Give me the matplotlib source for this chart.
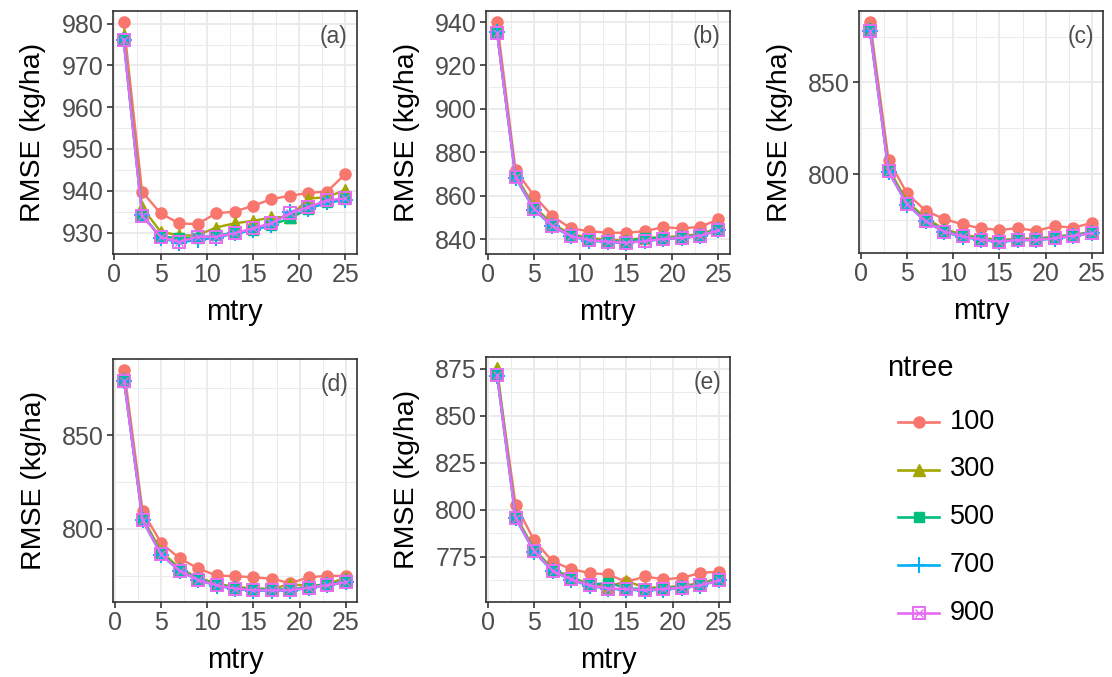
import matplotlib
matplotlib.use("Agg")
import matplotlib.pyplot as plt
from matplotlib.ticker import MultipleLocator
from matplotlib.lines import Line2D
import numpy as np

plt.rcParams['font.family'] = ['Liberation Sans', 'DejaVu Sans']

mtry = [1, 3, 5, 7, 9, 11, 13, 15, 17, 19, 21, 23, 25]
ntree_labels = ["100", "300", "500", "700", "900"]
colors = ["#F8766D", "#A3A500", "#00BF7D", "#00B0F6", "#E76BF3"]
panel_labels = ["(a)", "(b)", "(c)", "(d)", "(e)"]

# RMSE (kg/ha) per panel, per ntree
a_100 = [980.4, 939.8, 934.6, 932.2, 932.0, 934.6, 935.0, 936.4, 938.0, 938.8, 939.5, 939.8, 944.0]
a_300 = [977.4, 936.0, 930.2, 929.3, 929.3, 931.2, 932.2, 932.8, 933.6, 933.8, 938.1, 938.5, 940.2]
a_500 = [976.2, 934.2, 929.0, 928.7, 928.7, 929.4, 929.8, 930.6, 931.8, 933.4, 935.7, 937.2, 938.1]
a_700 = [976.2, 934.2, 928.8, 927.5, 928.3, 928.7, 929.8, 930.6, 931.8, 935.0, 935.7, 937.2, 937.7]
a_900 = [976.2, 934.0, 929.0, 927.7, 929.0, 929.0, 929.8, 931.0, 932.2, 934.6, 936.1, 937.7, 938.2]

b_100 = [940.0, 871.7, 860.0, 850.6, 844.9, 843.6, 842.9, 842.9, 843.6, 845.5, 844.9, 845.6, 849.1]
b_300 = [935.5, 869.5, 855.0, 847.0, 842.3, 840.5, 839.6, 839.5, 840.6, 840.8, 841.4, 842.3, 845.0]
b_500 = [935.0, 868.8, 854.3, 846.4, 841.7, 839.8, 839.0, 838.8, 840.5, 840.2, 840.9, 841.8, 844.3]
b_700 = [935.2, 868.2, 853.6, 845.8, 841.2, 839.3, 838.5, 838.2, 839.2, 839.8, 840.5, 841.4, 844.0]
b_900 = [935.0, 868.5, 854.0, 846.1, 841.4, 839.5, 838.8, 838.3, 839.0, 840.0, 840.6, 841.5, 844.0]

c_100 = [883.0, 807.6, 789.4, 780.0, 775.5, 772.5, 770.4, 769.5, 770.4, 769.0, 771.6, 770.7, 773.4]
c_300 = [879.5, 803.0, 785.0, 776.0, 770.0, 767.0, 765.2, 764.0, 764.7, 764.8, 765.8, 767.0, 768.3]
c_500 = [878.5, 802.0, 784.0, 775.0, 769.0, 766.3, 764.6, 763.4, 764.2, 764.3, 765.3, 766.6, 768.0]
c_700 = [878.0, 801.2, 783.3, 774.2, 768.3, 765.7, 764.0, 762.9, 763.8, 763.9, 764.8, 766.1, 767.9]
c_900 = [878.0, 801.4, 783.5, 774.3, 768.6, 766.0, 764.2, 763.1, 764.0, 764.0, 765.0, 766.3, 767.7]

d_100 = [884.8, 809.4, 792.5, 784.3, 778.9, 775.1, 774.7, 774.2, 773.3, 771.0, 774.2, 774.9, 774.9]
d_300 = [880.0, 806.0, 788.0, 779.0, 774.0, 770.8, 769.0, 768.2, 768.0, 770.5, 769.5, 770.5, 774.0]
d_500 = [879.3, 805.2, 787.0, 778.2, 773.3, 770.2, 768.5, 767.6, 767.6, 767.8, 769.0, 770.3, 772.0]
d_700 = [879.0, 804.5, 786.2, 777.5, 772.6, 769.7, 767.8, 767.0, 767.0, 767.0, 768.5, 769.8, 771.5]
d_900 = [879.0, 804.7, 786.4, 777.7, 772.8, 769.9, 768.1, 767.2, 767.2, 767.2, 768.6, 769.9, 771.6]

e_100 = [872.4, 802.7, 783.7, 772.4, 768.4, 766.2, 765.5, 761.5, 764.4, 762.9, 763.7, 766.3, 767.0]
e_300 = [875.3, 797.0, 779.0, 768.5, 764.0, 760.5, 759.0, 762.0, 758.5, 758.5, 759.5, 760.8, 763.5]
e_500 = [872.0, 796.0, 778.5, 768.0, 763.3, 760.0, 761.0, 758.2, 757.6, 758.1, 758.9, 760.1, 762.6]
e_700 = [871.0, 795.3, 777.6, 767.2, 762.6, 759.4, 757.8, 757.4, 756.9, 757.4, 758.3, 759.5, 762.3]
e_900 = [871.5, 795.6, 778.0, 767.5, 762.9, 759.7, 758.0, 757.7, 757.1, 757.7, 758.5, 759.7, 762.3]

panels = [
    [a_100, a_300, a_500, a_700, a_900],
    [b_100, b_300, b_500, b_700, b_900],
    [c_100, c_300, c_500, c_700, c_900],
    [d_100, d_300, d_500, d_700, d_900],
    [e_100, e_300, e_500, e_700, e_900],
]
y_major = [10, 20, 50, 50, 25]

W, H = 1112, 677
fig = plt.figure(figsize=(W / 100, H / 100), dpi=100)

# panel boxes in pixels (left, right, top, bottom)
boxes = [
    (112.5, 356.5, 11, 254),
    (486, 729.5, 11, 254),
    (859, 1103, 11, 253),
    (113, 357, 359, 601.7),
    (486, 730, 357, 601.7),
]

def add_px_axes(l, r, t, b):
    return fig.add_axes([l / W, 1 - b / H, (r - l) / W, (b - t) / H])

marker_styles = [
    dict(marker='o', ms=8),
    dict(marker='^', ms=8.5),
    dict(marker='s', ms=7),
    dict(marker='+', ms=11, mew=1.4),
    dict(marker='s', ms=8.5, mfc='none', mew=1.4),
]

gray_txt = "#4D4D4D"
frame = "#333333"

for pi, (series, box) in enumerate(zip(panels, boxes)):
    ax = add_px_axes(*box)
    allv = np.concatenate([np.array(s) for s in series])
    lo, hi = allv.min(), allv.max()
    rng = hi - lo
    ax.set_ylim(lo - 0.05 * rng, hi + 0.05 * rng)
    ax.set_xlim(1 - 0.05 * 24, 25 + 0.05 * 24)
    for k, (vals, col) in enumerate(zip(series, colors)):
        ms = marker_styles[k]
        ax.plot(mtry, vals, color=col, lw=1.7, zorder=3 + k,
                markeredgecolor=col, **ms)
        if k == 4:
            ax.plot(mtry, vals, linestyle='none', marker='x', ms=6,
                    mew=1.0, color=col, zorder=3 + k)
    ax.xaxis.set_major_locator(MultipleLocator(5))
    ax.xaxis.set_minor_locator(MultipleLocator(2.5))
    ax.yaxis.set_major_locator(MultipleLocator(y_major[pi]))
    ax.yaxis.set_minor_locator(MultipleLocator(y_major[pi] / 2))
    ax.grid(True, which='major', color='#EBEBEB', lw=1.4, zorder=0)
    ax.grid(True, which='minor', color='#EBEBEB', lw=0.7, zorder=0)
    ax.set_axisbelow(True)
    for sp in ax.spines.values():
        sp.set_color(frame)
        sp.set_linewidth(1.2)
    ax.tick_params(which='major', length=4, width=1.2, color=frame,
                   labelsize=18, labelcolor=gray_txt, pad=2.5)
    ax.tick_params(which='minor', length=0)
    ax.set_xlabel("mtry", fontsize=21, labelpad=8, color='black')
    ax.set_ylabel("RMSE (kg/ha)", fontsize=20.5, labelpad=11, color='black')
    ax.text(1 - 9 / 244, 1 - 14 / 243, panel_labels[pi], transform=ax.transAxes,
            ha='right', va='top', fontsize=16.5, color=gray_txt)

# legend
leg = add_px_axes(860, 1110, 350, 640)
leg.set_xlim(860, 1110)
leg.set_ylim(640, 350)
leg.axis('off')
leg.text(887, 368, "ntree", fontsize=21, ha='left', va='center')
entry_y = [422, 469.5, 517, 565, 613]
for k, (lab, col) in enumerate(zip(ntree_labels, colors)):
    y = entry_y[k]
    ms = marker_styles[k]
    leg.add_line(Line2D([898, 939], [y, y], color=col, lw=1.9, clip_on=False))
    leg.add_line(Line2D([918.5], [y], color=col, lw=0, markeredgecolor=col,
                        clip_on=False, **ms))
    if k == 4:
        leg.add_line(Line2D([918.5], [y], color=col, lw=0, marker='x', ms=6,
                            mew=1.0, clip_on=False))
    leg.text(950, y, lab, fontsize=19.5, ha='left', va='center')

fig.savefig("out.png", dpi=100)
